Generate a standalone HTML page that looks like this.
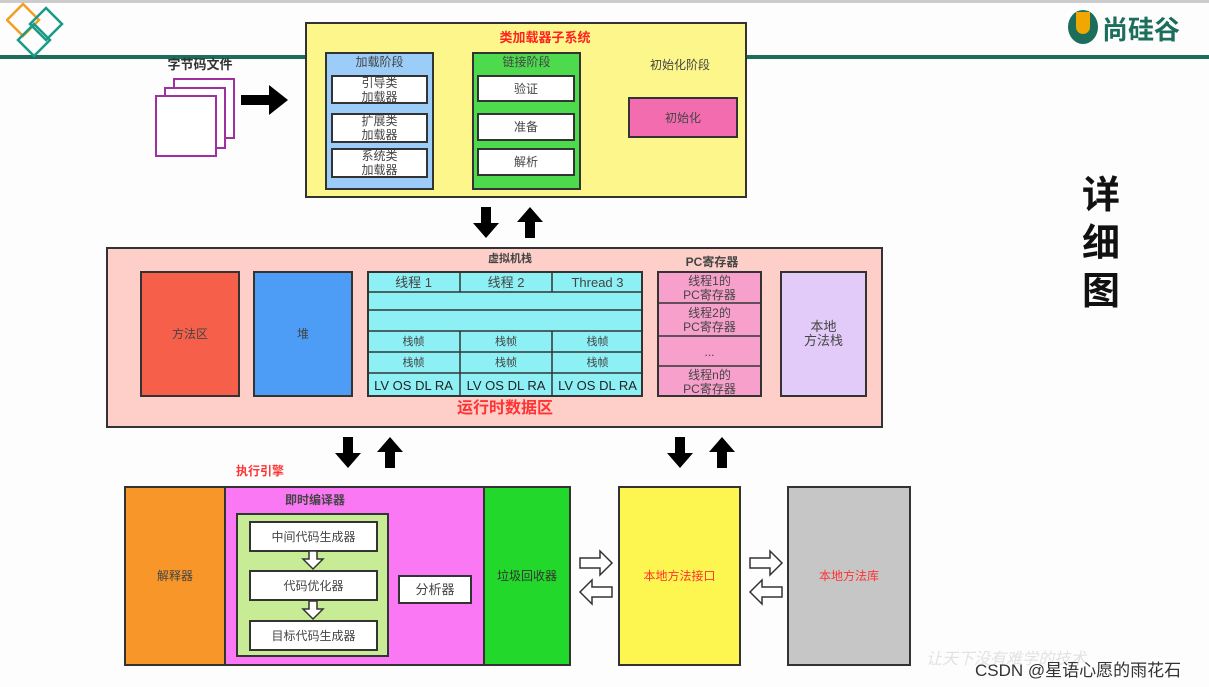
<!DOCTYPE html>
<html><head><meta charset="utf-8"><style>
body{margin:0;width:1209px;height:687px;position:relative;background:#fdfdfd;font-family:"Liberation Sans","Noto Sans CJK SC",sans-serif;overflow:hidden}
.a{position:absolute;box-sizing:border-box}
.b{border:2px solid #333}
.c{display:flex;align-items:center;justify-content:center;text-align:center;font-size:12px;color:#444;line-height:14px}
.w{background:#fff;border:2px solid #333}
</style></head><body>
<div class="a" style="left:0;top:0;width:1209px;height:3px;background:#ccc"></div>
<div class="a" style="left:0;top:55px;width:1209px;height:4px;background:#1b6d5c"></div>
<svg class="a" style="left:6px;top:2px" width="64" height="58"><g fill="none" stroke-width="2.5"><path d="M17 2 L33 18 L17 34 L1 18Z" stroke="#f0a020"/><path d="M40 6 L56 22 L40 38 L24 22Z" stroke="#1a9a8a"/><path d="M28 22 L44 38 L28 54 L12 38Z" stroke="#1a9a8a"/></g></svg>
<div class="a" style="left:1068px;top:10px;width:30px;height:34px;border-radius:50%;background:#1b6d5c"></div>
<div class="a" style="left:1076px;top:12px;width:14px;height:22px;border-radius:0 0 7px 7px;background:#f0a800"></div>
<div class="a" style="left:1102px;top:10px;font-size:26px;font-weight:bold;color:#1b6d5c">尚硅谷</div>

<div class="a c" style="left:160px;top:58px;width:80px;font-weight:bold;font-size:13px;color:#333">字节码文件</div>
<div class="a" style="left:173px;top:78px;width:62px;height:61px;border:2px solid #a030a0;background:#fff"></div>
<div class="a" style="left:164px;top:87px;width:62px;height:62px;border:2px solid #a030a0;background:#fff"></div>
<div class="a" style="left:155px;top:95px;width:62px;height:62px;border:2px solid #a030a0;background:#fff"></div>
<svg class="a" style="left:0;top:0" width="1209" height="687">
<g fill="#000">
<path d="M241 95h28v-10l19 15-19 15v-10h-28z"/>
<path d="M439 112h18v-9l15 14-15 14v-9h-18z"/>
<path d="M590 112h18v-9l15 14-15 14v-9h-18z"/>
<path d="M481 207h10v16h8l-13 15-13-15h8z"/>
<path d="M525 238h10v-16h8l-13-15-13 15h8z"/>
<path d="M343 437h10v16h8l-13 15-13-15h8z"/>
<path d="M385 468h10v-16h8l-13-15-13 15h8z"/>
<path d="M675 437h10v16h8l-13 15-13-15h8z"/>
<path d="M717 468h10v-16h8l-13-15-13 15h8z"/>
</g>
<g fill="#fff" stroke="#333" stroke-width="1.5">
<path d="M580 558h20v-7l12 12-12 12v-7h-20z"/>
<path d="M612 587h-20v-7l-12 12 12 12v-7h20z"/>
<path d="M750 558h20v-7l12 12-12 12v-7h-20z"/>
<path d="M782 587h-20v-7l-12 12 12 12v-7h20z"/>
</g></svg>

<div class="a b" style="left:305px;top:22px;width:442px;height:176px;background:#fdf68a"></div>
<div class="a c" style="left:305px;top:31px;width:480px;color:#f22;font-weight:bold;font-size:13px">类加载器子系统</div>
<div class="a b" style="left:325px;top:52px;width:109px;height:138px;background:#9cccf8"></div>
<div class="a c" style="left:325px;top:55px;width:109px">加载阶段</div>
<div class="a w c" style="left:331px;top:75px;width:97px;height:29px">引导类<br>加载器</div>
<div class="a w c" style="left:331px;top:113px;width:97px;height:30px">扩展类<br>加载器</div>
<div class="a w c" style="left:331px;top:148px;width:97px;height:30px">系统类<br>加载器</div>
<div class="a b" style="left:472px;top:52px;width:109px;height:138px;background:#4ddb4d"></div>
<div class="a c" style="left:472px;top:55px;width:109px">链接阶段</div>
<div class="a w c" style="left:477px;top:75px;width:98px;height:27px">验证</div>
<div class="a w c" style="left:477px;top:113px;width:98px;height:28px">准备</div>
<div class="a w c" style="left:477px;top:148px;width:98px;height:28px">解析</div>
<div class="a c" style="left:640px;top:58px;width:80px">初始化阶段</div>
<div class="a b c" style="left:628px;top:97px;width:110px;height:41px;background:#f46cb0">初始化</div>

<div class="a b" style="left:106px;top:247px;width:777px;height:181px;background:#fdcfc8"></div>
<div class="a c" style="left:460px;top:252px;width:100px;font-size:11px;font-weight:bold">虚拟机栈</div>
<div class="a c" style="left:662px;top:255px;width:100px;font-weight:bold">PC寄存器</div>
<div class="a b c" style="left:140px;top:271px;width:100px;height:126px;background:#f6604a">方法区</div>
<div class="a b c" style="left:253px;top:271px;width:100px;height:126px;background:#4d9cf6">堆</div>
<div class="a b" style="left:367px;top:271px;width:276px;height:126px;background:#8cf0f4"></div>
<svg class="a" style="left:367px;top:271px" width="276" height="126"><g stroke="#333" stroke-width="1.5"><line x1="93" y1="0" x2="93" y2="21"/><line x1="185" y1="0" x2="185" y2="21"/><line x1="93" y1="60" x2="93" y2="126"/><line x1="185" y1="60" x2="185" y2="126"/><line x1="0" y1="21" x2="276" y2="21"/><line x1="0" y1="39" x2="276" y2="39"/><line x1="0" y1="60" x2="276" y2="60"/><line x1="0" y1="81" x2="276" y2="81"/><line x1="0" y1="102" x2="276" y2="102"/></g></svg>
<div class="a c" style="left:367px;top:273px;width:93px;height:20px;font-size:13px">线程 1</div>
<div class="a c" style="left:460px;top:273px;width:92px;height:20px;font-size:13px">线程 2</div>
<div class="a c" style="left:552px;top:273px;width:91px;height:20px;font-size:13px">Thread 3</div>
<div class="a c" style="left:367px;top:331px;width:93px;height:21px;font-size:11px">栈帧</div>
<div class="a c" style="left:460px;top:331px;width:92px;height:21px;font-size:11px">栈帧</div>
<div class="a c" style="left:552px;top:331px;width:91px;height:21px;font-size:11px">栈帧</div>
<div class="a c" style="left:367px;top:352px;width:93px;height:21px;font-size:11px">栈帧</div>
<div class="a c" style="left:460px;top:352px;width:92px;height:21px;font-size:11px">栈帧</div>
<div class="a c" style="left:552px;top:352px;width:91px;height:21px;font-size:11px">栈帧</div>
<div class="a c" style="left:367px;top:374px;width:93px;height:23px;font-size:13px;color:#222">LV OS DL RA</div>
<div class="a c" style="left:460px;top:374px;width:92px;height:23px;font-size:13px;color:#222">LV OS DL RA</div>
<div class="a c" style="left:552px;top:374px;width:91px;height:23px;font-size:13px;color:#222">LV OS DL RA</div>
<div class="a b" style="left:657px;top:271px;width:105px;height:126px;background:#f8a0cc"></div>
<svg class="a" style="left:657px;top:271px" width="105" height="126"><g stroke="#333" stroke-width="1.5"><line x1="0" y1="32" x2="105" y2="32"/><line x1="0" y1="65" x2="105" y2="65"/><line x1="0" y1="95" x2="105" y2="95"/></g></svg>
<div class="a c" style="left:657px;top:273px;width:105px;height:30px">线程1的<br>PC寄存器</div>
<div class="a c" style="left:657px;top:304px;width:105px;height:32px">线程2的<br>PC寄存器</div>
<div class="a c" style="left:657px;top:337px;width:105px;height:29px">...</div>
<div class="a c" style="left:657px;top:367px;width:105px;height:30px">线程n的<br>PC寄存器</div>
<div class="a b c" style="left:780px;top:271px;width:87px;height:126px;background:#e2cbf8;font-size:13px">本地<br>方法栈</div>
<div class="a c" style="left:430px;top:402px;width:150px;color:#f33;font-size:16px;font-weight:bold">运行时数据区</div>

<div class="a c" style="left:230px;top:464px;width:60px;color:#f33;font-weight:bold">执行引擎</div>
<div class="a b c" style="left:124px;top:486px;width:102px;height:180px;background:#f8962a">解释器</div>
<div class="a b" style="left:224px;top:486px;width:261px;height:180px;background:#fb78f4"></div>
<div class="a c" style="left:280px;top:493px;width:70px;font-weight:bold">即时编译器</div>
<div class="a b" style="left:236px;top:513px;width:153px;height:144px;background:#c8ec96"></div>
<div class="a w c" style="left:249px;top:521px;width:129px;height:31px">中间代码生成器</div>
<div class="a w c" style="left:249px;top:570px;width:129px;height:31px">代码优化器</div>
<div class="a w c" style="left:249px;top:620px;width:129px;height:31px">目标代码生成器</div>
<div class="a w c" style="left:398px;top:575px;width:74px;height:29px;font-size:13px">分析器</div>
<div class="a b c" style="left:483px;top:486px;width:88px;height:180px;background:#22d82a;color:#333">垃圾回收器</div>
<svg class="a" style="left:0;top:0" width="600" height="687"><g fill="#fff" stroke="#333" stroke-width="1.5"><path d="M309 551v8h-6l10 10 10-10h-6v-8z"/><path d="M309 601v8h-6l10 10 10-10h-6v-8z"/></g></svg>
<div class="a b c" style="left:618px;top:486px;width:123px;height:180px;background:#fdf650;color:#f33">本地方法接口</div>
<div class="a b c" style="left:787px;top:486px;width:124px;height:180px;background:#c6c6c6;color:#f33">本地方法库</div>

<div class="a" style="left:1082px;top:172px;width:44px;font-size:38px;font-weight:bold;line-height:48px;color:#111">详<br>细<br>图</div>
<div class="a" style="left:926px;top:645px;font-size:16px;color:#e2e2e2;font-style:italic">让天下没有难学的技术</div>
<div class="a" style="left:975px;top:656px;font-size:17px;color:#333">CSDN @星语心愿的雨花石</div>
</body></html>
